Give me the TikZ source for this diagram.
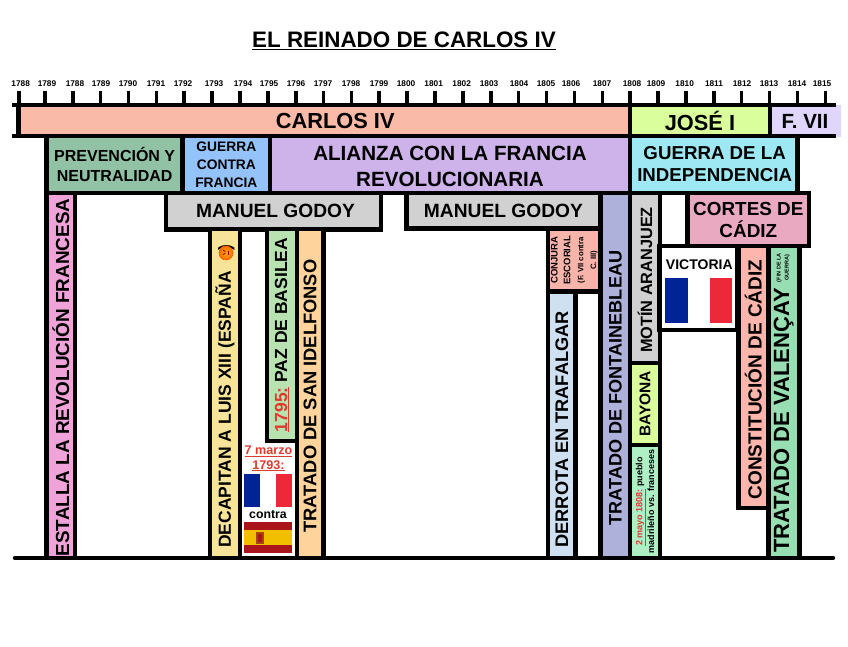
\documentclass[tikz,border=0pt]{standalone}
\usepackage{fontspec}
\setmainfont{Liberation Sans}
\usepackage{xcolor}
\usetikzlibrary{positioning}
\definecolor{carloscol}{HTML}{F9BAA8}
\definecolor{josecol}{HTML}{DAFE9C}
\definecolor{fernandocol}{HTML}{E0D5FA}
\definecolor{prevcol}{HTML}{92C2A6}
\definecolor{guerracol}{HTML}{94C2FB}
\definecolor{alianzacol}{HTML}{CDB3EA}
\definecolor{indepcol}{HTML}{9DE8F3}
\definecolor{godoycol}{HTML}{D1D1D1}
\definecolor{cortescol}{HTML}{E9A9C1}
\definecolor{estallacol}{HTML}{EFA3D8}
\definecolor{decapcol}{HTML}{F7E49A}
\definecolor{pazcol}{HTML}{B8E2AF}
\definecolor{ildecol}{HTML}{FED49C}
\definecolor{conjuracol}{HTML}{F7B4AA}
\definecolor{derrotacol}{HTML}{CFE1F0}
\definecolor{fontacol}{HTML}{AEB1D9}
\definecolor{mayocol}{HTML}{AEEFC4}
\definecolor{constcol}{HTML}{FDB6AC}
\definecolor{valencol}{HTML}{97DFB3}
\definecolor{redtext}{HTML}{E03A2F}
\definecolor{flagblue}{HTML}{002395}
\definecolor{flagred}{HTML}{ED2939}
\definecolor{esred}{HTML}{AA151B}
\definecolor{esyellow}{HTML}{F1BF00}
\newcommand{\fsz}[2]{\fontsize{#1}{#2}\selectfont\bfseries}
\newcommand{\redul}[1]{\textcolor{redtext}{\underline{#1}}}

\begin{document}
\begin{tikzpicture}[
    x=1pt, y=-1pt,
    rail/.style={line width=4.5pt},
    box/.style={rectangle, draw, line width=4.5pt, inner sep=0pt, outer sep=0pt, align=center, anchor=north west},
    bar/.style={box, rotate=90},
    yearlabel/.style={font=\fsz{8.3}{10}, inner sep=0pt}
]
    \useasboundingbox (0,0) rectangle (848,647);

    \node[font=\fsz{22.4}{26}, inner sep=0pt] (title) at (404,41) {\underline{EL REINADO DE CARLOS IV}};

    % time line
    \fill[fernandocol] (770,105) rectangle (840.5,137);
    \node[box, fill=carloscol, minimum width=611.5pt, minimum height=31pt, font=\fsz{21.8}{25}, draw=none] (carlos) at (18.5,105) {\hspace*{22pt}CARLOS IV};
    \node[box, fill=josecol, minimum width=140pt, minimum height=31pt, font=\fsz{21.8}{25}, draw=none] (jose) at (630,105) {JOSÉ I};
    \node[inner sep=0pt, font=\fsz{20.5}{24}] (fernando) at (805,121) {F. VII};
    \draw[rail] (12,105) -- (835.5,105);
    \draw[rail] (12,136) -- (835.5,136);
    \draw[rail] (18.7,105) -- (18.7,136);
    \draw[rail] (630,105) -- (630,136);
    \draw[rail] (770,105) -- (770,136);
    \foreach \tickx/\tickyear/\labelx in {18.7/1788/20.7, 44.7/1789/47, 72.7/1788/75, 100.3/1789/101, 128.3/1790/128, 156.3/1791/156, 184/1792/183, 212/1793/214, 240/1794/243, 267.7/1795/269, 295.7/1796/296, 323.3/1797/323, 351.3/1798/351, 379/1799/379, 407/1800/406, 435/1801/433.7, 462.7/1802/461.7, 490.7/1803/489, 518.3/1804/519, 546.3/1805/546, 574.3/1806/571, 602.3/1807/602, 630/1808/632, 658/1809/656, 685.7/1810/684.7, 713.7/1811/714, 741.3/1812/742, 769.3/1813/769, 797.3/1814/797, 825.3/1815/822} {
        \draw[line width=3.6pt] (\tickx,91) -- (\tickx,105);
        \node[yearlabel] at (\labelx,84) {\tickyear};
    }

    % second row
    \node[box, fill=prevcol, minimum width=136pt, minimum height=57pt, font=\fsz{16}{20.5}] (prev) at (46.7,136) {PREVENCIÓN Y\\NEUTRALIDAD};
    \node[box, fill=guerracol, minimum width=87.3pt, minimum height=57pt, font=\fsz{13.8}{18}] (guerra) at (182.7,136) {GUERRA\\CONTRA\\FRANCIA};
    \node[box, fill=alianzacol, minimum width=360pt, minimum height=57pt, font=\fsz{20.6}{26}] (alianza) at (270,136) {\rule{0pt}{19pt}ALIANZA CON LA FRANCIA\\REVOLUCIONARIA};
    \node[box, fill=indepcol, minimum width=167.3pt, minimum height=57pt, font=\fsz{18.7}{22}] (indep) at (630,136) {\hspace*{2pt}GUERRA DE LA\\\hspace*{2pt}INDEPENDENCIA};

    % third row
    \node[box, fill=godoycol, minimum width=215pt, minimum height=36.3pt, font=\fsz{19.2}{24}] (godoya) at (166,193) {\hspace*{4pt}MANUEL GODOY};
    \node[box, fill=godoycol, minimum width=193.5pt, minimum height=35.5pt, font=\fsz{19.2}{24}] (godoyb) at (406.7,193) {MANUEL GODOY};
    \node[box, fill=cortescol, minimum width=121.3pt, minimum height=53pt, font=\fsz{18.9}{22}] (cortes) at (687.7,193) {CORTES DE\\CÁDIZ};

    % bars, bottom to top
    \node[bar, fill=estallacol, minimum width=365pt, minimum height=28.5pt, font=\fsz{18.9}{22}] (estalla) at (46.7,558) {ESTALLA LA REVOLUCIÓN FRANCESA\hspace*{4pt}};
    \node[bar, fill=decapcol, minimum width=329pt, minimum height=30pt, font=\fsz{17.5}{21}] (decapitan) at (210,558) {DECAPITAN A LUIS XIII (ESPAÑA\hspace{21pt})\hspace*{5pt}};
    \node[bar, fill=pazcol, minimum width=212pt, minimum height=30pt, font=\fsz{17.5}{21}] (paz) at (267,441) {\redul{1795:} PAZ DE BASILEA};
    \node[bar, fill=ildecol, minimum width=329pt, minimum height=26.3pt, font=\fsz{18.3}{21}] (ildefonso) at (297,558) {TRATADO DE SAN IDELFONSO\hspace*{5pt}};
    \node[bar, fill=conjuracol, minimum width=62.7pt, minimum height=52.7pt, font=\fsz{9.5}{12.8}] (conjura) at (548,291.7) {CONJURA\\ESCORIAL\\{\fsz{7.8}{9.3}(F. VII contra}\\{\fsz{7.8}{9.3}C. III)}};
    \node[bar, fill=derrotacol, minimum width=266.3pt, minimum height=27.7pt, font=\fsz{18.2}{21}] (derrota) at (548,558) {DERROTA EN TRAFALGAR\hspace*{9pt}};
    \node[bar, fill=fontacol, minimum width=365pt, minimum height=29.3pt, font=\fsz{18.1}{21}] (fontaine) at (600.7,558) {TRATADO DE FONTAINEBLEAU\hspace*{25pt}};
    \node[bar, fill=godoycol, minimum width=170pt, minimum height=30pt, font=\fsz{16.3}{20}] (motin) at (630,363) {MOTÍN ARANJUEZ\hspace*{4pt}};
    \node[bar, fill=josecol, minimum width=82pt, minimum height=30pt, font=\fsz{15.5}{19}] (bayona) at (630,445) {BAYONA};
    \node[bar, fill=mayocol, minimum width=113pt, minimum height=30pt, font=\fsz{9}{11.7}, text depth=0pt] (mayo) at (630,558) {\redul{2 mayo 1808:} pueblo\\madrileño vs. franceses};
    \node[bar, fill=constcol, minimum width=262pt, minimum height=30pt, font=\fsz{19}{22}] (constitucion) at (738.3,508) {CONSTITUCIÓN DE CÁDIZ\hspace*{5pt}};
    \node[bar, fill=valencol, minimum width=312pt, minimum height=31pt, font=\fsz{22}{25}] (valencay) at (768.3,558) {TRATADO DE VALENÇAY\hspace*{37pt}};
    \node[rotate=90, inner sep=0pt, align=center, font=\fsz{5.5}{8}] (fin) at (783.3,267.7) {(FIN DE LA\\GUERRA)};

    % emoji on the bar of the king
    \node[circle, inner color=orange!70!yellow, outer color=orange!85!red, draw=orange!70!red, line width=0.6pt, minimum size=14pt, inner sep=0pt] (enfado) at (226,253) {};
    \draw[line width=0.8pt, red!60!black] (enfado.center) ++(-3,-3) -- ++(2.4,1.6) ++(-2.4,3) -- ++(2.4,-1.6);
    \draw[line width=0.9pt, red!60!black] (enfado.center) ++(2.6,-2) -- ++(0,4);

    % victoria box
    \node[box, fill=white, minimum width=78pt, minimum height=84pt] (victoria) at (659.6,246) {};
    \node[inner sep=0pt, font=\fsz{14}{17}] (victoriatxt) at (699.3,265) {VICTORIA};
    \fill[flagblue] (665,278) rectangle (688,323);
    \fill[flagred] (710,278) rectangle (732,323);

    % 7 marzo
    \node[inner sep=0pt, align=center, font=\fsz{12.6}{14.7}] (marzo) at (268.5,458.5) {\redul{7 marzo}\\\redul{1793:}};
    \fill[flagblue] (244,474) rectangle (260,507);
    \fill[flagred] (276,474) rectangle (292,507);
    \node[inner sep=0pt, font=\fsz{12.3}{14}] (contra) at (268,515) {contra};
    \fill[esred] (244,522) rectangle (292,553);
    \fill[esyellow] (244,530) rectangle (292,545);
    \fill[esred!80!black!70!esyellow] (256,532) rectangle (264,544);
    \fill[esred] (258,534) rectangle (262,542);

    % ground line
    \draw[rail, line cap=round] (15,558) -- (833,558);
\end{tikzpicture}
\end{document}
